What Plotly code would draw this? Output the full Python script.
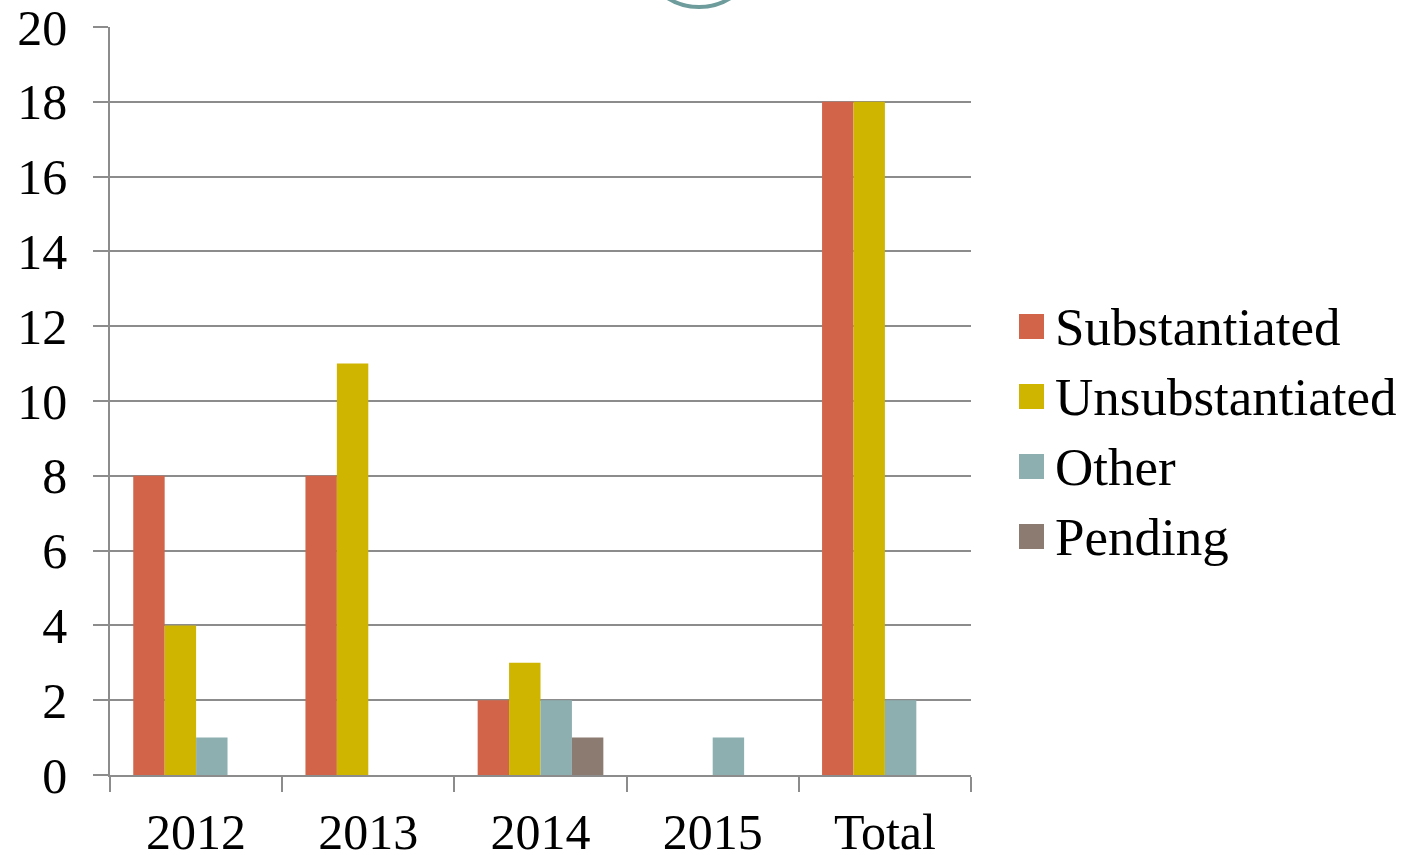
import plotly.graph_objects as go

categories = ["2012", "2013", "2014", "2015", "Total"]
series_names = ["Substantiated", "Unsubstantiated", "Other", "Pending"]
substantiated = [8, 8, 2, None, 18]
unsubstantiated = [4, 11, 3, None, 18]
other = [1, None, 2, 1, 2]
pending = [None, None, 1, None, None]
series_values = [substantiated, unsubstantiated, other, pending]
colors = ["#D2644A", "#CFB400", "#8DAFB0", "#8C7B70"]
y_ticks = [0, 2, 4, 6, 8, 10, 12, 14, 16, 18, 20]

W, H = 1418, 855
# plot area in page pixels
L, R, T, B = 110, 971, 27, 775
FONT = "Liberation Serif"
GRID = "#8C8C8C"

def px_x(px):
    return (px - L) / (R - L)

def px_y(py):
    return (B - py) / (B - T)

fig = go.Figure()
for name, vals, col in zip(series_names, series_values, colors):
    fig.add_trace(go.Bar(x=categories, y=vals, name=name,
                         marker=dict(color=col, line=dict(width=0)),
                         showlegend=False))

# manual legend with large square keys
leg_y = [326.5, 396.5, 466.5, 536.5]
for name, col, cy in zip(series_names, colors, leg_y):
    fig.add_shape(type="rect", xref="paper", yref="paper",
                  x0=px_x(1019), x1=px_x(1044), y0=px_y(cy + 12.5), y1=px_y(cy - 12.5),
                  fillcolor=col, line=dict(width=0))
    fig.add_annotation(xref="paper", yref="paper", x=px_x(1053), y=px_y(cy),
                       xanchor="left", yanchor="middle", text=name, showarrow=False,
                       font=dict(family=FONT, size=53, color="#000000"))

# decorative circle at top
fig.add_shape(type="circle", xref="paper", yref="paper",
              x0=px_x(640), x1=px_x(758), y0=px_y(7), y1=px_y(-111),
              line=dict(color="#6E9B9B", width=4), fillcolor="rgba(0,0,0,0)")

fig.update_layout(
    width=W, height=H,
    margin=dict(l=L, r=W - R, t=T, b=H - B, pad=0, autoexpand=False),
    paper_bgcolor="white", plot_bgcolor="white",
    barmode="group", bargap=0.27, bargroupgap=0,
    font=dict(family=FONT, size=50, color="#000000"),
)
fig.update_yaxes(range=[0, 20], tickvals=y_ticks, showgrid=True, gridcolor=GRID, gridwidth=1.5,
                 showline=True, linecolor=GRID, linewidth=1.5, automargin=False,
                 ticks="outside", ticklen=15, tickcolor=GRID, tickwidth=1.5,
                 ticklabeloverflow="allow",
                 zeroline=False, tickfont=dict(family=FONT, size=50), ticklabelstandoff=16)
fig.update_xaxes(showline=True, linecolor=GRID, linewidth=1.5, showgrid=False, automargin=False,
                 ticks="outside", ticklen=15, tickcolor=GRID, tickwidth=1.5,
                 ticklabeloverflow="allow",
                 tickson="boundaries", tickfont=dict(family=FONT, size=50), ticklabelstandoff=12)

fig.write_html("out.html", config={"displayModeBar": False},
               post_script="document.body.style.margin='0';document.body.style.overflow='hidden';")
